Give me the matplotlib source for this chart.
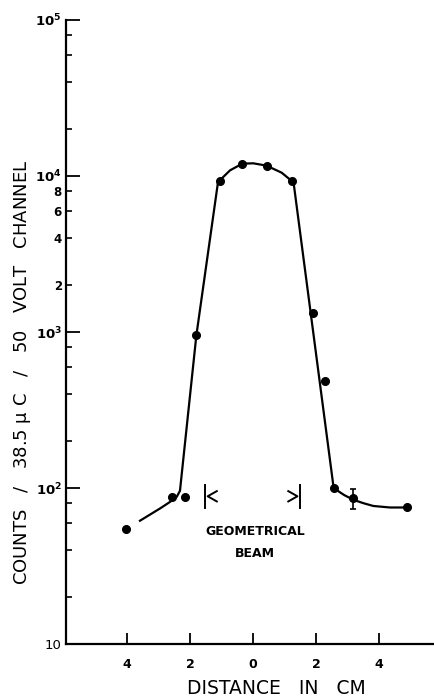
import matplotlib
matplotlib.use("Agg")
import matplotlib.pyplot as plt
from matplotlib.ticker import FixedLocator, FixedFormatter

plt.rcParams['font.family'] = ['DejaVu Sans']
plt.rcParams['mathtext.default'] = 'bf'

# measured counts across the beam profile
dist = [-4.03, -2.58, -2.16, -1.81, -1.05, -0.34, 0.43, 1.23, 1.91, 2.29, 2.58, 3.19, 4.89]
counts = [55, 88, 88, 950, 9300, 12000, 11600, 9250, 1330, 485, 100, 86, 76]

# error bar on one point
err_x = 3.19
err_y = 86
err_lo = 73
err_hi = 98

# hand-fitted curve through the measurements
curve_x = [-3.59, -2.95, -2.63, -2.42, -2.32, -1.80, -1.12, -1.05, -0.73, -0.34,
           0.01, 0.43, 0.91, 1.23, 1.30, 2.55, 2.62, 2.9, 3.19, 3.5, 3.82, 4.35, 4.89]
curve_y = [61.7, 74, 81.6, 88, 96, 950, 8900, 9400, 10870, 12000,
           12060, 11650, 10500, 9290, 8700, 104, 98, 90, 84, 80, 76.7, 75, 75]

# edges of the geometrical beam
beam_left = -1.52
beam_right = 1.48

x_ticks = [-4, -2, 0, 2, 4]
x_labels = ['4', '2', '0', '2', '4']
y_major = [10, 100, 1000, 10000, 100000]
y_major_labels = ['10', '$10^2$', '$10^3$', '$10^4$', '$10^5$']
y_minor = [20, 40, 60, 80, 200, 400, 600, 800, 2000, 4000, 6000, 8000,
           20000, 40000, 60000, 80000]
y_minor_labels = ['', '', '', '', '', '', '', '', '2', '4', '6', '8',
                  '', '', '', '']

fig = plt.figure(figsize=(4.35, 6.96), dpi=100)
ax = fig.add_axes([66 / 435, 52 / 696, 1 - 66 / 435, 624 / 696])

ax.set_yscale('log')
ax.set_xlim(-5.94, 5.78)
ax.set_ylim(10, 100000)

ax.plot(curve_x, curve_y, color='black', lw=1.6, zorder=2)
ax.plot(dist, counts, 'o', color='black', ms=5.5, zorder=3)
ax.errorbar([err_x], [err_y], yerr=[[err_y - err_lo], [err_hi - err_y]], fmt='none',
            ecolor='black', elinewidth=1.2, capsize=2.5, capthick=1.2)

# beam edge markers  |<   >|
ax.plot([beam_left, beam_left], [74.5, 104.5], color='black', lw=1.4)
ax.plot([beam_left + 0.37, beam_left + 0.08, beam_left + 0.37], [95.5, 88.5, 82],
        color='black', lw=1.4)
ax.plot([beam_right, beam_right], [74.5, 104.5], color='black', lw=1.4)
ax.plot([beam_right - 0.36, beam_right - 0.07, beam_right - 0.36], [95.5, 88.5, 82],
        color='black', lw=1.4)
ax.text(0.06, 52.3, 'GEOMETRICAL', ha='center', va='center', fontsize=9,
        fontweight='bold')
ax.text(0.06, 38.3, 'BEAM', ha='center', va='center', fontsize=9,
        fontweight='bold')

for side in ['top', 'right']:
    ax.spines[side].set_visible(False)
ax.spines['left'].set_linewidth(1.6)
ax.spines['bottom'].set_linewidth(1.6)

ax.xaxis.set_major_locator(FixedLocator(x_ticks))
ax.xaxis.set_major_formatter(FixedFormatter(x_labels))
ax.xaxis.set_minor_locator(FixedLocator([]))
ax.yaxis.set_major_locator(FixedLocator(y_major))
ax.yaxis.set_major_formatter(FixedFormatter(y_major_labels))
ax.yaxis.set_minor_locator(FixedLocator(y_minor))
ax.yaxis.set_minor_formatter(FixedFormatter(y_minor_labels))

ax.tick_params(axis='x', direction='in', length=8, width=1.3, pad=10,
               labelsize=9)
ax.tick_params(axis='y', which='major', direction='in', length=10, width=1.3,
               pad=3, labelsize=9.5)
ax.tick_params(axis='y', which='minor', direction='in', length=4, width=1.2,
               pad=3, labelsize=8.5)
for lab in ax.get_xticklabels() + ax.get_yticklabels(minor=True):
    lab.set_fontweight('bold')

fig.text(276 / 435, 1 - 688 / 696, 'DISTANCE   IN   CM', ha='center', va='center',
         fontsize=13.5)
fig.text(23 / 435, 1 - 372 / 696,
         'COUNTS   /   38.5 $\\mathregular{\\mu}$ C   /   50   VOLT   CHANNEL',
         rotation=90, ha='center', va='center', fontsize=13)

fig.savefig('out.png', dpi=100)
